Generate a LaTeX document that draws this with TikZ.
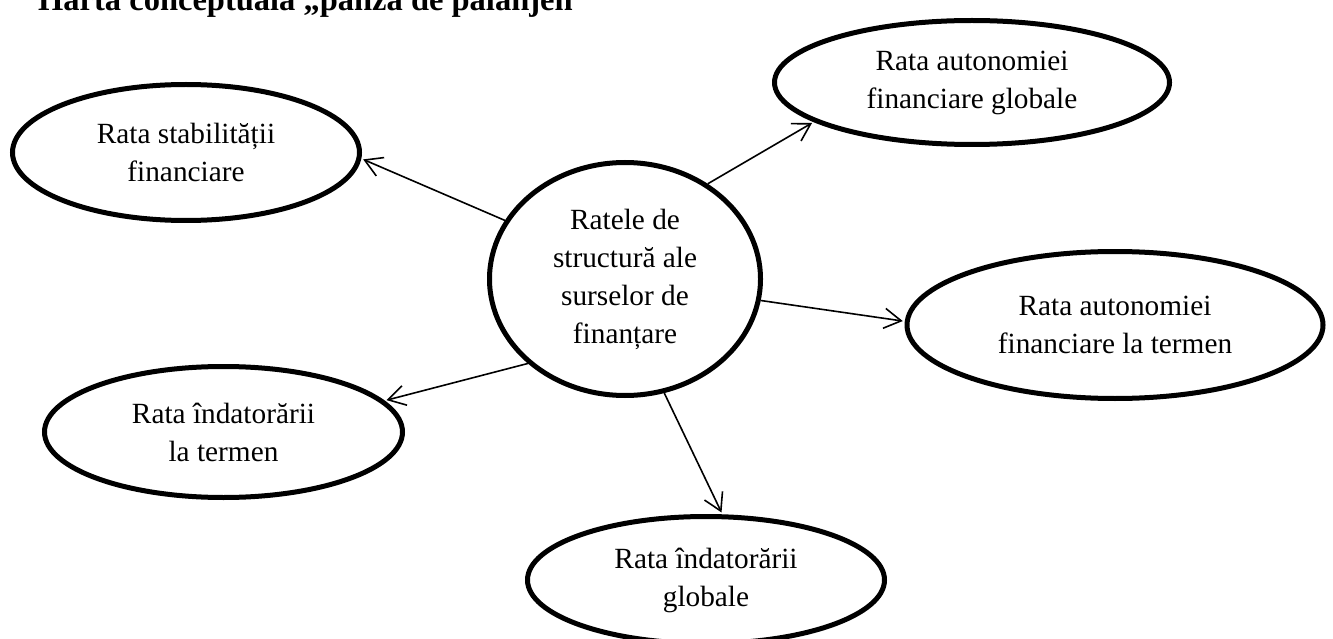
\documentclass[tikz,border=0pt]{standalone}
\usepackage{fontspec}
\setmainfont{Liberation Serif}
\usetikzlibrary{arrows.meta,shapes.geometric}
\begin{document}
\begin{tikzpicture}[x=1pt,y=-1pt,
  bubble/.style={ellipse,draw,line width=5pt,inner sep=0pt,align=center,
    font=\fontsize{29.3}{38}\selectfont},
  link/.style={-{Straight Barb[length=17pt,width=20pt]},line width=1.6pt,shorten >=2pt}]
\useasboundingbox (0,0) rectangle (1333,639);
\node[anchor=base west,inner sep=0pt,font=\bfseries\fontsize{32.5}{38}\selectfont] (title) at (38,11) {Harta conceptuală „pânza de păianjen”};
\node[bubble,minimum width=271pt,minimum height=233pt] (c) at (625,279) {Ratele de\\structură ale\\surselor de\\finanțare};
\node[bubble,minimum width=347pt,minimum height=136pt] (s) at (186,152.5) {Rata stabilității\\financiare};
\node[bubble,minimum width=395pt,minimum height=124pt] (g) at (972,82.5) {Rata autonomiei\\financiare globale};
\node[bubble,minimum width=416pt,minimum height=147pt] (t) at (1115,325) {Rata autonomiei\\financiare la termen};
\node[bubble,minimum width=358pt,minimum height=131pt] (l) at (223.5,432) {Rata îndatorării\\la termen};
\node[bubble,minimum width=357pt,minimum height=127pt] (b) at (706,580) {Rata îndatorării\\globale};
\draw[link] (c.154.6) -- (s.-2.1);
\draw[link] (c.49.7) -- (g.194.9);
\draw[link] (c.-9.5) -- (t.179);
\draw[link] (c.221.7) -- (l.11.5);
\draw[link] (c.-71.4) -- (b.76.4);
\end{tikzpicture}
\end{document}
